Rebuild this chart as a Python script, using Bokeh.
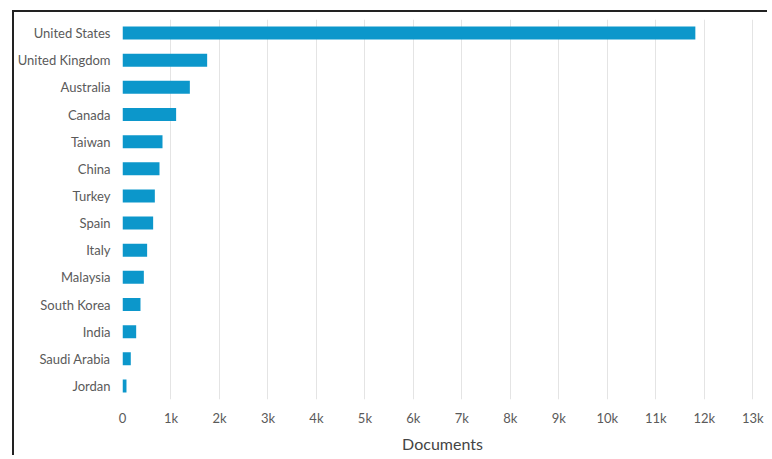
from bokeh.plotting import figure
from bokeh.models import ColumnDataSource, CustomJSTickFormatter, FixedTicker
from bokeh.embed import file_html
from bokeh.resources import INLINE

countries = ["United States", "United Kingdom", "Australia", "Canada", "Taiwan", "China",
             "Turkey", "Spain", "Italy", "Malaysia", "South Korea", "India", "Saudi Arabia", "Jordan"]
documents = [11815, 1746, 1389, 1106, 825, 763, 667, 632, 508, 440, 371, 282, 171, 82]
tick_values = [0, 1000, 2000, 3000, 4000, 5000, 6000, 7000, 8000, 9000, 10000, 11000, 12000, 13000]

FONT = "Lato"

src = ColumnDataSource(data=dict(country=countries, docs=documents))

p = figure(frame_width=640, frame_height=380, y_range=list(reversed(countries)), x_range=(0, 13200),
           output_backend="svg", toolbar_location=None,
           min_border_left=90, min_border_right=5, min_border_top=7, min_border_bottom=2)
p.styles = {"border-top": "2px solid #222", "border-left": "2px solid #222",
            "margin-top": "10px", "margin-left": "12px"}

p.hbar(y="country", right="docs", left=0, height=0.48, source=src,
       fill_color="#0c97cb", line_color=None)

p.outline_line_color = None
p.ygrid.grid_line_color = None
p.xgrid.grid_line_color = "#e4e4e4"
p.xgrid.grid_line_width = 1
p.xaxis.ticker = FixedTicker(ticks=tick_values)
p.xaxis.formatter = CustomJSTickFormatter(code="return tick == 0 ? '0' : (tick/1000) + 'k';")

for ax in (p.xaxis[0], p.yaxis[0]):
    ax.axis_line_color = None
    ax.major_tick_line_color = None
    ax.minor_tick_line_color = None
    ax.major_label_text_font = FONT
    ax.major_label_text_color = "#5a5a5a"
    ax.major_label_text_font_size = "13px"

p.yaxis.major_label_standoff = 6
p.xaxis.major_label_standoff = 4
p.xaxis.axis_label = "Documents"
p.xaxis.axis_label_text_font = FONT
p.xaxis.axis_label_text_font_style = "normal"
p.xaxis.axis_label_text_font_size = "16px"
p.xaxis.axis_label_text_color = "#444444"
p.xaxis.axis_label_standoff = 5

open("out.html", "w").write(file_html(p, INLINE))
